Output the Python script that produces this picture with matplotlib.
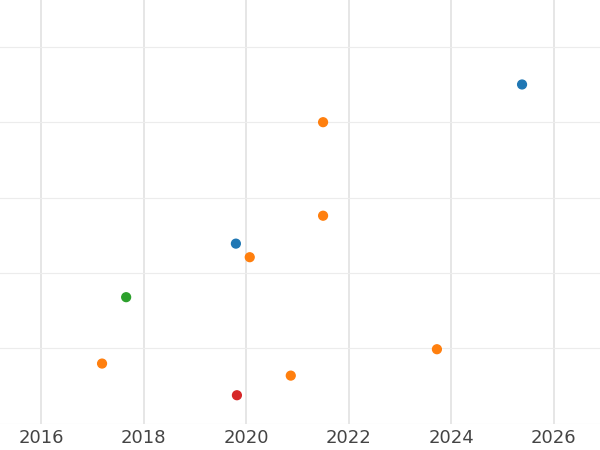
import matplotlib.pyplot as plt
from matplotlib.ticker import MultipleLocator

# decimal years and values
years = [2025.38, 2021.5, 2021.5, 2019.8, 2020.07, 2017.66, 2023.72, 2017.19, 2020.87, 2019.82]
values = [4.5, 4.0, 2.76, 2.39, 2.21, 1.68, 0.99, 0.80, 0.64, 0.38]
groups = ["blue", "orange", "orange", "blue", "orange", "green", "orange", "orange", "orange", "red"]
palette = {"blue": "#1f77b4", "orange": "#ff7f0e", "green": "#2ca02c", "red": "#d62728"}

fig = plt.figure(figsize=(6, 4.5), dpi=100)
ax = fig.add_axes([0, 0.058, 1, 0.942])

ax.scatter(years, values, c=[palette[g] for g in groups], s=40, zorder=3)

ax.set_xlim(2015.2, 2026.9)
ax.set_ylim(0.0, 5.62)
ax.xaxis.set_major_locator(MultipleLocator(2))
ax.yaxis.set_major_locator(MultipleLocator(1))
ax.set_yticklabels([])
ax.grid(True, which="major", axis="x", color="#e6e6e6", linewidth=1.4)
ax.grid(True, which="major", axis="y", color="#ececec", linewidth=0.8)
ax.tick_params(axis="both", which="both", length=0)
ax.tick_params(axis="x", labelsize=13, labelcolor="#444444", pad=4)
for spine in ax.spines.values():
    spine.set_visible(False)

fig.savefig("out.png", dpi=100)
